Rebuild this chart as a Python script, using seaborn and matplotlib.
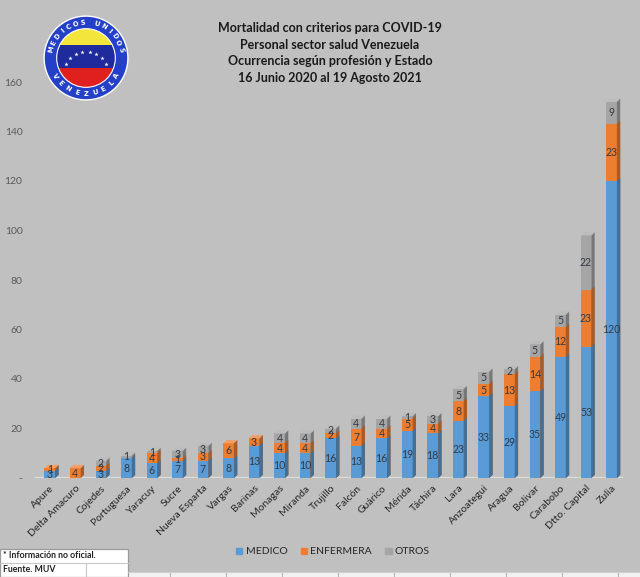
import numpy as np
import pandas as pd
import seaborn as sns
import matplotlib.pyplot as plt
from matplotlib.patches import Polygon, Rectangle, Circle, Patch
from matplotlib.colors import to_rgb

estados = ['Apure', 'Delta Amacuro', 'Cojedes', 'Portuguesa', 'Yaracuy', 'Sucre',
           'Nueva Esparta', 'Vargas', 'Barinas', 'Monagas', 'Miranda', 'Trujillo',
           'Falcón', 'Guárico', 'Mérida', 'Táchira', 'Lara', 'Anzoategui', 'Aragua',
           'Bolivar', 'Carabobo', 'Dtto. Capital', 'Zulia']
medico = [3, 0, 3, 8, 6, 7, 7, 8, 13, 10, 10, 16, 13, 16, 19, 18, 23, 33, 29, 35, 49, 53, 120]
enfermera = [1, 4, 2, 0, 4, 1, 3, 6, 3, 4, 4, 2, 7, 4, 5, 4, 8, 5, 13, 14, 12, 23, 23]
otros = [0, 0, 2, 1, 1, 3, 3, 0, 0, 4, 4, 2, 4, 4, 1, 3, 5, 5, 2, 5, 5, 22, 9]
series = ['MEDICO', 'ENFERMERA', 'OTROS']
yticks = [0, 20, 40, 60, 80, 100, 120, 140, 160]
ytick_labels = ['-', '20', '40', '60', '80', '100', '120', '140', '160']
titulo = ('Mortalidad con criterios para COVID-19\nPersonal sector salud Venezuela\n'
          'Ocurrencia según profesión y Estado\n16 Junio 2020 al 19 Agosto 2021')

colores = {'MEDICO': '#5b9bd5', 'ENFERMERA': '#ed7d31', 'OTROS': '#a5a5a5'}
bg = '#c0c0c0'

sns.set_theme(style='white')
plt.rcParams['font.family'] = ['Lato', 'DejaVu Sans']

df = pd.DataFrame({'estado': estados, 'MEDICO': medico, 'ENFERMERA': enfermera, 'OTROS': otros})
df['c1'] = df['MEDICO']
df['c2'] = df['MEDICO'] + df['ENFERMERA']
df['c3'] = df['c2'] + df['OTROS']

fig = plt.figure(figsize=(6.4, 5.77), dpi=100, facecolor=bg)
ax = fig.add_axes([35 / 640, 99 / 577, 588 / 640, 396 / 577])
ax.set_facecolor(bg)


def shade(c, f):
    r, g, b = to_rgb(c)
    if f < 1:
        return (r * f, g * f, b * f)
    return tuple(min(1, v + (1 - v) * (f - 1)) for v in (r, g, b))


dx, dy = 0.13, 1.3
# overlap stacking: tallest cumulative first
for z, (col, name) in enumerate([('c3', 'OTROS'), ('c2', 'ENFERMERA'), ('c1', 'MEDICO')]):
    n0 = len(ax.patches)
    sns.barplot(data=df, x='estado', y=col, color=colores[name], saturation=1,
                width=0.42, linewidth=0, ax=ax, zorder=2 + z)
    for p in ax.patches[n0:]:
        x, w, h = p.get_x(), p.get_width(), p.get_height()
        if h <= 0:
            continue
        side = Polygon([(x + w, 0), (x + w + dx, dy), (x + w + dx, h + dy), (x + w, h)],
                       closed=True, color=shade(colores[name], 0.72), lw=0, zorder=2 + z)
        ax.add_patch(side)

# top caps
for i, row in df.iterrows():
    if row['OTROS'] > 0:
        c = colores['OTROS']
    elif row['ENFERMERA'] > 0:
        c = colores['ENFERMERA']
    else:
        c = colores['MEDICO']
    x, w, h = i - 0.21, 0.42, row['c3']
    ax.add_patch(Polygon([(x, h), (x + dx, h + dy), (x + w + dx, h + dy), (x + w, h)],
                         closed=True, color=shade(c, 1.25), lw=0, zorder=6))

# value labels
for i, row in df.iterrows():
    bottom = 0
    for name in series:
        v = row[name]
        if v > 0:
            ax.text(i, bottom + v / 2, str(v), ha='center', va='center', fontsize=7.6,
                    color='#333a44', zorder=8)
        bottom += v

ax.axhline(0, color='#dcdcdc', lw=1.6, zorder=1)
ax.set_xlim(-0.58, 22.45)
ax.set_ylim(0, 160)
ax.set_yticks(yticks)
ax.set_yticklabels(ytick_labels, fontsize=7.5, color='#5a5a5a')
ax.tick_params(axis='y', length=0, pad=9)
ax.tick_params(axis='x', length=0, pad=4)
ax.set_xticks(range(len(estados)))
ax.set_xticklabels(estados, rotation=45, ha='right', rotation_mode='anchor',
                   fontsize=7.5, color='#262626')
ax.set_xlabel('')
ax.set_ylabel('')
for s in ax.spines.values():
    s.set_visible(False)

fig.text(330 / 640, 1 - 53 / 577, titulo, ha='center', va='center', fontsize=9,
         fontweight='bold', color='#1a1a1a', linespacing=1.45)

handles = [Patch(color=colores[s]) for s in series]
fig.legend(handles, series, loc='center', bbox_to_anchor=(333 / 640, 1 - 552 / 577),
           ncol=3, frameon=False, fontsize=7.5, handlelength=0.6, handleheight=0.6,
           handletextpad=0.3, columnspacing=1.3, labelcolor='#262626')

# note box and sheet grid at the bottom
tf = fig.transFigure


def px(x, y):
    return (x / 640, 1 - y / 577)


fig.patches.append(Rectangle(px(128, 577), 512 / 640, 5 / 577, transform=tf,
                             facecolor='#f2f2f2', edgecolor='none'))
for xv in range(170, 640, 56):
    fig.add_artist(plt.Line2D([xv / 640, xv / 640], [0, 5 / 577], transform=tf,
                              color='#b5b5b5', lw=0.8))
fig.add_artist(plt.Line2D([128 / 640, 1], [5 / 577, 5 / 577], transform=tf,
                          color='#d0d0d0', lw=0.8))
fig.patches.append(Rectangle(px(0, 577), 128 / 640, 28 / 577, transform=tf,
                             facecolor='white', edgecolor='#9a9a9a', lw=0.9))
fig.add_artist(plt.Line2D([0, 128 / 640], [1 - 563 / 577] * 2, transform=tf,
                          color='#c8c8c8', lw=0.8))
fig.add_artist(plt.Line2D([86 / 640] * 2, [0, 1 - 563 / 577], transform=tf,
                          color='#c8c8c8', lw=0.8))
fig.text(3 / 640, 1 - 556 / 577, '* Información no oficial.', fontsize=6.3,
         fontweight='bold', color='#222222', va='center')
fig.text(3 / 640, 1 - 570 / 577, 'Fuente. MUV', fontsize=6.3,
         fontweight='bold', color='#222222', va='center')

# logo
lax = fig.add_axes([42 / 640, 1 - 102 / 577, 88 / 640, 88 / 577])
lax.set_xlim(-1.05, 1.05)
lax.set_ylim(-1.05, 1.05)
lax.axis('off')
lax.add_patch(Circle((0, 0), 1.0, facecolor='#2440c8', edgecolor='white', lw=1.0))
inner = Circle((0, 0), 0.7, facecolor='none', edgecolor='white', lw=0.8, zorder=5)
lax.add_patch(inner)
for y0, y1, c in [(0.3, 0.75, '#f4e53c'), (-0.24, 0.3, '#1f2a9c'), (-0.75, -0.24, '#e0201e')]:
    r = Rectangle((-0.75, y0), 1.5, y1 - y0, facecolor=c, edgecolor='none', zorder=3)
    lax.add_patch(r)
    r.set_clip_path(inner)
for a in np.linspace(160, 20, 8):
    t = np.deg2rad(a)
    lax.plot(0.5 * np.cos(t), -0.28 + 0.42 * np.sin(t), marker='*', color='white',
             ms=3.2, mew=0, zorder=6)
txt = 'MEDICOS UNIDOS'
for k, a in enumerate(np.linspace(166, 14, len(txt))):
    t = np.deg2rad(a)
    lax.text(0.85 * np.cos(t), 0.85 * np.sin(t), txt[k], rotation=a - 90, ha='center',
             va='center', fontsize=4.9, fontweight='bold', color='white', zorder=7,
             family='DejaVu Sans')
txt = 'VENEZUELA'
for k, a in enumerate(np.linspace(-150, -30, len(txt))):
    t = np.deg2rad(a)
    lax.text(0.85 * np.cos(t), 0.85 * np.sin(t), txt[k], rotation=a + 90, ha='center',
             va='center', fontsize=4.9, fontweight='bold', color='white', zorder=7,
             family='DejaVu Sans')

fig.savefig('out.png', dpi=100, facecolor=bg)
